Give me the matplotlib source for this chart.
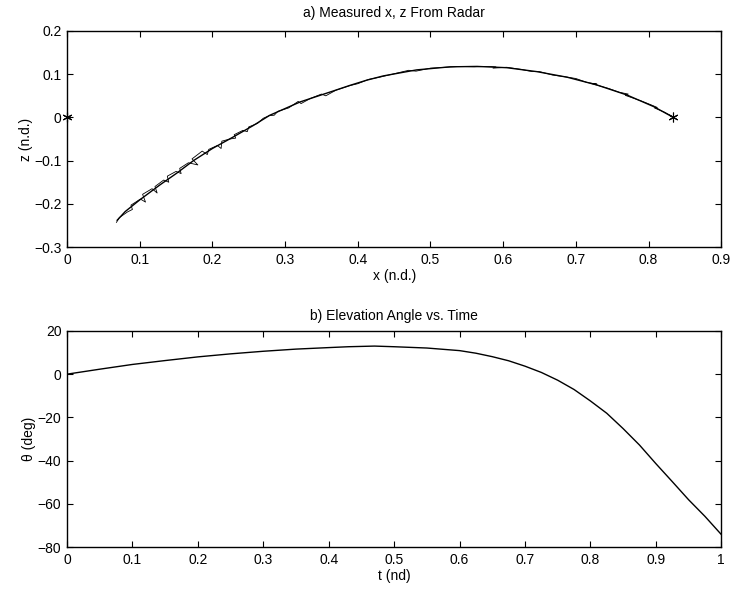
import matplotlib
matplotlib.use("Agg")
import matplotlib.pyplot as plt
from matplotlib.ticker import FuncFormatter

plt.rcParams["font.family"] = ["Liberation Sans", "DejaVu Sans"]
plt.rcParams["font.size"] = 10

# smooth trajectory (x, z)
traj_x = [0.069, 0.080, 0.100, 0.128, 0.151, 0.174, 0.200, 0.229, 0.256, 0.279,
          0.321, 0.366, 0.389, 0.412, 0.435, 0.481, 0.527, 0.564, 0.605, 0.646,
          0.688, 0.729, 0.770, 0.807, 0.834]
traj_z = [-0.238, -0.218, -0.191, -0.156, -0.129, -0.100, -0.072, -0.045, -0.019, 0.005,
          0.036, 0.061, 0.074, 0.086, 0.096, 0.110, 0.117, 0.118, 0.115, 0.106,
          0.093, 0.075, 0.052, 0.025, 0.000]

# radar measurements (x, z)
meas_x = [0.068, 0.072, 0.083, 0.090, 0.088, 0.101, 0.108, 0.104, 0.117, 0.124,
          0.121, 0.133, 0.140, 0.138, 0.150, 0.157, 0.155, 0.167, 0.180, 0.172,
          0.186, 0.193, 0.195, 0.207, 0.212, 0.213, 0.224, 0.232, 0.230, 0.242,
          0.248, 0.250, 0.262, 0.270, 0.278, 0.285, 0.290, 0.305, 0.318, 0.322,
          0.335, 0.350, 0.356, 0.370, 0.390, 0.400, 0.415, 0.430, 0.450, 0.470,
          0.480, 0.500, 0.520, 0.540, 0.560, 0.580, 0.590, 0.586, 0.605, 0.625,
          0.640, 0.650, 0.668, 0.685, 0.700, 0.715, 0.729, 0.722, 0.745, 0.760,
          0.772, 0.768, 0.790, 0.802, 0.812, 0.808, 0.822, 0.834]
meas_z = [-0.243, -0.232, -0.219, -0.213, -0.203, -0.189, -0.196, -0.178, -0.165, -0.175,
          -0.160, -0.145, -0.150, -0.136, -0.125, -0.130, -0.118, -0.105, -0.110, -0.096,
          -0.078, -0.086, -0.074, -0.065, -0.072, -0.055, -0.050, -0.048, -0.040, -0.030,
          -0.033, -0.022, -0.014, -0.002, 0.004, 0.005, 0.014, 0.022, 0.037, 0.032,
          0.044, 0.054, 0.050, 0.063, 0.074, 0.078, 0.088, 0.093, 0.101, 0.109,
          0.107, 0.114, 0.116, 0.118, 0.117, 0.118, 0.117, 0.114, 0.116, 0.111,
          0.106, 0.106, 0.098, 0.094, 0.090, 0.081, 0.077, 0.078, 0.067, 0.058,
          0.054, 0.051, 0.038, 0.030, 0.023, 0.022, 0.012, 0.001]

# start / end markers
mark_x = [0.0, 0.834]
mark_z = [0.0, 0.0]

# elevation angle vs time
t_vals = [0.0, 0.05, 0.1, 0.15, 0.2, 0.25, 0.3, 0.35, 0.4, 0.43,
          0.47, 0.5, 0.55, 0.6, 0.625, 0.65, 0.675, 0.7, 0.725, 0.75,
          0.775, 0.8, 0.825, 0.85, 0.875, 0.9, 0.925, 0.95, 0.975, 1.0]
theta_vals = [0.0, 2.3, 4.5, 6.3, 8.0, 9.4, 10.6, 11.6, 12.3, 12.7,
              13.0, 12.7, 12.1, 10.9, 9.7, 8.1, 6.2, 3.7, 0.8, -2.8,
              -7.1, -12.4, -18.1, -25.2, -32.8, -41.4, -49.7, -58.1, -65.8, -74.2]


def fmt(v, pos):
    return f"{v:g}".replace("-", "\u2212")


def style_axes(ax):
    ax.tick_params(direction="in", top=True, right=True, length=4, width=0.8, pad=4)
    for s in ax.spines.values():
        s.set_linewidth(1.0)
    ax.xaxis.set_major_formatter(FuncFormatter(fmt))
    ax.yaxis.set_major_formatter(FuncFormatter(fmt))


fig = plt.figure(figsize=(7.33, 5.89), dpi=100)

ax1 = fig.add_axes([0.0914, 0.5806, 0.8926, 0.3668])
ax1.plot(traj_x, traj_z, color="black", lw=1.0)
ax1.plot(meas_x, meas_z, color="black", lw=0.6)
ax1.plot(mark_x, mark_z, linestyle="none", marker=(6, 2, 0), markersize=7,
         markeredgewidth=0.8, color="black", clip_on=False)
ax1.set_xlim(0, 0.9)
ax1.set_ylim(-0.3, 0.2)
ax1.set_xticks([0, 0.1, 0.2, 0.3, 0.4, 0.5, 0.6, 0.7, 0.8, 0.9])
ax1.set_yticks([-0.3, -0.2, -0.1, 0, 0.1, 0.2])
ax1.set_xlabel("x (n.d.)", labelpad=2)
ax1.set_ylabel("z (n.d.)", labelpad=1)
ax1.set_title("a) Measured x, z From Radar", fontsize=10, pad=10)
style_axes(ax1)

ax2 = fig.add_axes([0.0914, 0.0713, 0.8926, 0.3668])
ax2.plot(t_vals, theta_vals, color="black", lw=1.0)
ax2.set_xlim(0, 1)
ax2.set_ylim(-80, 20)
ax2.set_xticks([0, 0.1, 0.2, 0.3, 0.4, 0.5, 0.6, 0.7, 0.8, 0.9, 1])
ax2.set_yticks([-80, -60, -40, -20, 0, 20])
ax2.set_xlabel("t (nd)", labelpad=2)
ax2.set_ylabel("\u03b8 (deg)", labelpad=1)
ax2.set_title("b) Elevation Angle vs. Time", fontsize=10, pad=8)
style_axes(ax2)

fig.savefig("out.png", dpi=100)
